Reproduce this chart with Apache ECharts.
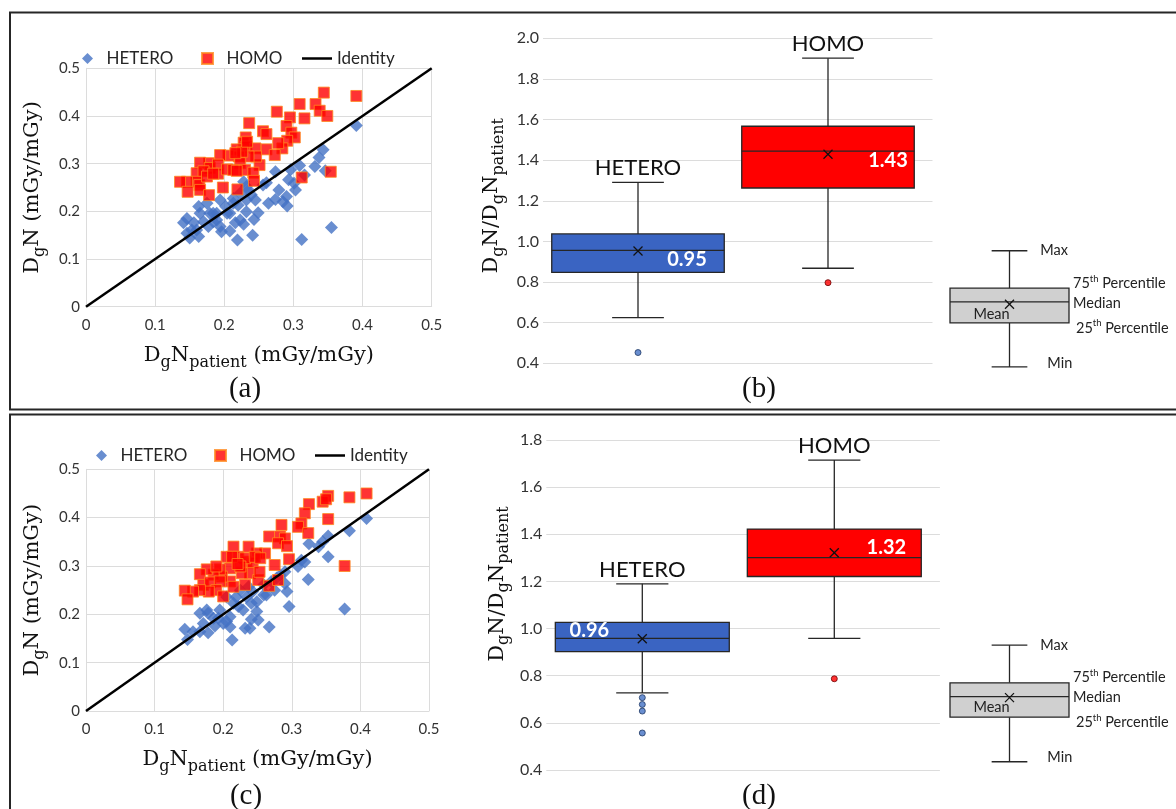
<!DOCTYPE html>
<html><head><meta charset="utf-8">
<script src="https://cdn.jsdelivr.net/npm/echarts@6/dist/echarts.min.js"></script>
<style>html,body{margin:0;padding:0;background:#fff}#c{width:1176px;height:809px}</style>
</head><body><div id="c"></div>
<script>
// ---------- DATA ----------
const seriesNames = ['HETERO', 'HOMO', 'Identity'];
const identityLine = [0, 0.5];
const aHetero = [[0.391,0.380],[0.343,0.329],[0.337,0.313],[0.331,0.294],[0.346,0.285],[0.309,0.296],[0.296,0.287],[0.293,0.266],[0.301,0.259],[0.303,0.245],[0.290,0.231],[0.291,0.211],[0.279,0.245],[0.274,0.283],[0.261,0.260],[0.256,0.255],[0.264,0.217],[0.274,0.225],[0.285,0.220],[0.316,0.276],[0.312,0.141],[0.355,0.166],[0.241,0.150],[0.219,0.140],[0.228,0.262],[0.235,0.245],[0.232,0.224],[0.245,0.224],[0.249,0.197],[0.243,0.183],[0.232,0.199],[0.220,0.213],[0.213,0.227],[0.208,0.196],[0.223,0.182],[0.228,0.173],[0.216,0.176],[0.208,0.159],[0.196,0.157],[0.194,0.224],[0.184,0.196],[0.189,0.182],[0.177,0.168],[0.170,0.178],[0.165,0.196],[0.163,0.210],[0.175,0.217],[0.160,0.161],[0.153,0.161],[0.146,0.154],[0.150,0.144],[0.163,0.147],[0.141,0.176],[0.146,0.185],[0.156,0.176],[0.184,0.178],[0.194,0.168],[0.204,0.196],[0.202,0.210],[0.189,0.196],[0.179,0.196],[0.232,0.252],[0.223,0.238],[0.239,0.235],[0.213,0.217]];
const aHomo = [[0.391,0.442],[0.344,0.449],[0.332,0.425],[0.309,0.425],[0.338,0.411],[0.349,0.400],[0.316,0.395],[0.295,0.397],[0.276,0.409],[0.290,0.379],[0.297,0.365],[0.302,0.355],[0.291,0.348],[0.284,0.332],[0.278,0.343],[0.256,0.368],[0.261,0.362],[0.236,0.385],[0.261,0.330],[0.273,0.318],[0.251,0.297],[0.231,0.355],[0.228,0.344],[0.232,0.336],[0.245,0.332],[0.246,0.315],[0.235,0.315],[0.218,0.330],[0.221,0.315],[0.223,0.301],[0.206,0.317],[0.194,0.318],[0.178,0.301],[0.165,0.302],[0.179,0.291],[0.191,0.298],[0.191,0.279],[0.204,0.288],[0.213,0.287],[0.230,0.287],[0.242,0.281],[0.243,0.264],[0.218,0.285],[0.160,0.280],[0.170,0.284],[0.160,0.262],[0.146,0.262],[0.136,0.262],[0.147,0.241],[0.164,0.255],[0.165,0.245],[0.178,0.234],[0.198,0.250],[0.219,0.246],[0.312,0.271],[0.354,0.283],[0.175,0.273],[0.184,0.279],[0.226,0.325],[0.216,0.322],[0.233,0.346]];
const cHetero = [[0.409,0.398],[0.384,0.373],[0.377,0.211],[0.353,0.319],[0.353,0.362],[0.345,0.350],[0.325,0.346],[0.324,0.272],[0.319,0.308],[0.314,0.312],[0.309,0.299],[0.296,0.216],[0.293,0.247],[0.290,0.264],[0.290,0.288],[0.283,0.281],[0.267,0.174],[0.275,0.250],[0.270,0.268],[0.263,0.240],[0.259,0.240],[0.249,0.206],[0.251,0.188],[0.239,0.171],[0.232,0.171],[0.241,0.190],[0.249,0.226],[0.241,0.223],[0.234,0.236],[0.225,0.250],[0.229,0.209],[0.222,0.216],[0.215,0.223],[0.210,0.195],[0.213,0.147],[0.210,0.174],[0.205,0.185],[0.195,0.209],[0.193,0.192],[0.188,0.176],[0.178,0.202],[0.176,0.209],[0.171,0.181],[0.166,0.202],[0.166,0.164],[0.178,0.162],[0.156,0.164],[0.144,0.169],[0.148,0.148],[0.186,0.192],[0.200,0.181],[0.237,0.257],[0.243,0.247],[0.259,0.261],[0.278,0.275],[0.219,0.236],[0.205,0.236],[0.339,0.340]];
const cHomo = [[0.409,0.450],[0.384,0.442],[0.353,0.445],[0.345,0.433],[0.350,0.438],[0.325,0.428],[0.319,0.409],[0.353,0.397],[0.314,0.388],[0.309,0.381],[0.324,0.368],[0.285,0.385],[0.267,0.361],[0.283,0.361],[0.290,0.357],[0.280,0.347],[0.293,0.341],[0.296,0.314],[0.275,0.302],[0.377,0.300],[0.267,0.259],[0.280,0.271],[0.261,0.326],[0.249,0.326],[0.237,0.340],[0.215,0.340],[0.205,0.319],[0.210,0.295],[0.222,0.319],[0.234,0.309],[0.243,0.307],[0.239,0.285],[0.227,0.285],[0.251,0.271],[0.253,0.288],[0.232,0.261],[0.210,0.268],[0.198,0.278],[0.195,0.293],[0.186,0.282],[0.176,0.293],[0.166,0.283],[0.171,0.261],[0.181,0.266],[0.195,0.268],[0.190,0.250],[0.179,0.247],[0.166,0.250],[0.156,0.247],[0.144,0.249],[0.148,0.231],[0.200,0.237],[0.215,0.257],[0.232,0.316],[0.225,0.299],[0.246,0.319],[0.254,0.316],[0.213,0.319],[0.190,0.299],[0.221,0.304]];

const boxGroups = ['HETERO', 'HOMO'];
// panel (b)
const bMin = [0.625, 0.868];
const bQ1 = [0.848, 1.263];
const bMedian = [0.956, 1.445];
const bQ3 = [1.037, 1.567];
const bMax = [1.291, 1.902];
const bMean = [0.953, 1.429];
const bOutliers = [[0, 0.453], [1, 0.797]];
// panel (d)
const dMin = [0.727, 0.958];
const dQ1 = [0.902, 1.221];
const dMedian = [0.958, 1.301];
const dQ3 = [1.026, 1.422];
const dMax = [1.190, 1.715];
const dMean = [0.957, 1.322];
const dOutliers = [[0, 0.707], [0, 0.678], [0, 0.650], [0, 0.557], [1, 0.787]];
// key (legend) boxes: min, q1, median, q3, max, mean
const keyB = [0.382, 0.599, 0.702, 0.770, 0.954, 0.691];
const keyD = [0.435, 0.624, 0.711, 0.770, 0.930, 0.707];
const keyTexts = ['Min', '25{sup|th} Percentile', 'Median', '75{sup|th} Percentile', 'Max', 'Mean'];

// ---------- STYLE ----------
const BLUE = '#4472c4', BOXBLUE = '#3a64c2', RED = '#ff0000', ORANGE = '#ff8a1f', DARK = '#262626';
const GRID_C = '#dcdcdc';
const SANS = 'Lato', SERIF = 'DejaVu Serif';
const diamondIcon = 'path://M5,0L10,5L5,10L0,5Z';
const squareIcon = 'path://M0,0L10,0L10,10L0,10Z';
const lineIcon = 'path://M0,0L30,0L30,2.5L0,2.5Z';
const subRich = { s: { fontSize: 16, fontFamily: SERIF, color: '#111', lineHeight: 16, padding: [14, 0, 0, 0] } };
const nameStyle = { fontFamily: SERIF, fontSize: 21, color: '#111', lineHeight: 26, rich: subRich };

function boxRows(mn, q1, md, q3, mx, mean) {
  return boxGroups.map((g, i) => [i, mn[i], q1[i], md[i], q3[i], mx[i], mean[i]]);
}

function boxRender(cfg) {
  return function (params, api) {
    const i = params.dataIndex;
    const x = api.value(0);
    const pMin = api.coord([x, api.value(1)]);
    const pQ1 = api.coord([x, api.value(2)]);
    const pMed = api.coord([x, api.value(3)]);
    const pQ3 = api.coord([x, api.value(4)]);
    const pMax = api.coord([x, api.value(5)]);
    const mean = api.value(6);
    const pMean = api.coord([x, mean]);
    const w = api.size([cfg.boxWidth, 0])[0];
    const cx = pMed[0], hw = w / 2, cap = w * 0.15;
    const ln = { stroke: DARK, lineWidth: 1.3 };
    const ch = [
      { type: 'line', shape: { x1: cx, y1: pQ3[1], x2: cx, y2: pMax[1] }, style: ln },
      { type: 'line', shape: { x1: cx, y1: pQ1[1], x2: cx, y2: pMin[1] }, style: ln },
      { type: 'line', shape: { x1: cx - cap, y1: pMax[1], x2: cx + cap, y2: pMax[1] }, style: ln },
      { type: 'line', shape: { x1: cx - cap, y1: pMin[1], x2: cx + cap, y2: pMin[1] }, style: ln },
      { type: 'rect', shape: { x: cx - hw, y: pQ3[1], width: w, height: pQ1[1] - pQ3[1] }, style: { fill: cfg.fills[i], stroke: DARK, lineWidth: 1.3 } },
      { type: 'line', shape: { x1: cx - hw, y1: pMed[1], x2: cx + hw, y2: pMed[1] }, style: ln },
      { type: 'line', shape: { x1: cx - 4.5, y1: pMean[1] - 4.5, x2: cx + 4.5, y2: pMean[1] + 4.5 }, style: { stroke: '#111', lineWidth: 1.3 } },
      { type: 'line', shape: { x1: cx - 4.5, y1: pMean[1] + 4.5, x2: cx + 4.5, y2: pMean[1] - 4.5 }, style: { stroke: '#111', lineWidth: 1.3 } }
    ];
    if (cfg.key) {
      const ts = { fontFamily: SANS, fontSize: 14.5, fill: '#222', verticalAlign: 'middle', align: 'left',
        rich: { sup: { fontSize: 9.5, fontFamily: SANS, fill: '#222', lineHeight: 9, padding: [0, 0, 9, 0] } } };
      const rx = cx + hw;
      const pos = [
        [cx + cap + 20, pMin[1] - 4], [rx + 7, pQ1[1] + 5], [rx + 4, pMed[1] + 1],
        [rx + 4, pQ3[1] - 5], [cx + cap + 13, pMax[1]]
      ];
      pos.forEach((p, k) => ch.push({ type: 'text', x: p[0], y: p[1], style: Object.assign({ text: keyTexts[k] }, ts) }));
      ch.push({ type: 'text', x: cx - 18, y: pMean[1] + 10, style: Object.assign({}, ts, { text: keyTexts[5], align: 'center' }) });
    } else {
      const lab = cfg.labels[i];
      ch.push({ type: 'text', x: cx + lab[0], y: pMean[1] + lab[1],
        style: { text: mean.toFixed(2), fontFamily: SANS, fontWeight: 'bold', fontSize: 20, fill: '#fff', align: 'center', verticalAlign: 'middle' } });
      ch.push({ type: 'text', x: cx, y: pMax[1] - 14,
        style: { text: boxGroups[i], fontFamily: SANS, fontSize: 22, fill: '#111', align: 'center', verticalAlign: 'middle' } });
    }
    return { type: 'group', children: ch };
  };
}

function scatterX(gi, nameGap) {
  return { type: 'value', gridIndex: gi, min: 0, max: 0.5, interval: 0.1,
    name: 'D{s|g}N{s|patient} (mGy/mGy)', nameLocation: 'middle', nameGap: nameGap, nameTextStyle: nameStyle,
    axisLine: { show: true, lineStyle: { color: GRID_C, width: 1 } }, axisTick: { show: false },
    axisLabel: { fontFamily: SANS, fontSize: 15, color: '#333', margin: 11 },
    splitLine: { show: true, lineStyle: { color: GRID_C, width: 1 } } };
}
function scatterY(gi) {
  return { type: 'value', gridIndex: gi, min: 0, max: 0.5, interval: 0.1,
    name: 'D{s|g}N (mGy/mGy)', nameLocation: 'middle', nameGap: 40, nameRotate: 90, nameTextStyle: nameStyle,
    axisLine: { show: true, lineStyle: { color: GRID_C, width: 1 } }, axisTick: { show: false },
    axisLabel: { fontFamily: SANS, fontSize: 15, color: '#333', margin: 6 },
    splitLine: { show: true, lineStyle: { color: GRID_C, width: 1 } } };
}
function boxY(gi, max, pad, gap) {
  return { type: 'value', gridIndex: gi, min: 0.4, max: max, interval: 0.2,
    name: 'D{s|g}N/D{s|g}N{s|patient}', nameLocation: 'middle', nameGap: gap, nameRotate: 90,
    nameTextStyle: Object.assign({}, nameStyle, { padding: pad }),
    axisLine: { show: false }, axisTick: { show: false },
    axisLabel: { fontFamily: SANS, fontSize: 16, color: '#333', margin: 4, formatter: v => v.toFixed(1) },
    splitLine: { show: true, lineStyle: { color: GRID_C, width: 1 } } };
}
function hiddenX(gi, min, max) { return { type: 'value', gridIndex: gi, min: min, max: max, show: false }; }
function hiddenY(gi, max) { return { type: 'value', gridIndex: gi, min: 0.4, max: max, show: false }; }

function scatterSeries(xi, het, hom) {
  return [
    { name: seriesNames[0], type: 'scatter', xAxisIndex: xi, yAxisIndex: xi, data: het, symbol: 'diamond', symbolSize: 13,
      itemStyle: { color: BLUE }, z: 2 },
    { name: seriesNames[1], type: 'scatter', xAxisIndex: xi, yAxisIndex: xi, data: hom, symbol: 'rect', symbolSize: 11,
      itemStyle: { color: RED, borderColor: ORANGE, borderWidth: 1 }, z: 3 },
    { name: seriesNames[2], type: 'line', xAxisIndex: xi, yAxisIndex: xi, data: identityLine.map(v => [v, v]), symbol: 'none',
      lineStyle: { color: '#000', width: 2.5 }, itemStyle: { color: '#000' }, z: 4 }
  ];
}
function outlierSeries(xi, outs) {
  return { name: 'outliers' + xi, type: 'scatter', xAxisIndex: xi, yAxisIndex: xi, symbol: 'circle', symbolSize: 6,
    data: outs.map(o => ({ value: o, itemStyle: { color: o[0] === 0 ? BLUE : RED, borderColor: o[0] === 0 ? '#1f3864' : '#6b0000', borderWidth: 1 } })), z: 5 };
}

function legendItem(name, icon, left, top, w) {
  return { data: [{ name: name, icon: icon }], left: left, top: top, padding: 0,
    itemWidth: w, itemHeight: 11, selectedMode: false,
    textStyle: { fontFamily: SANS, fontSize: 17, color: '#262626' } };
}

const option = {
  animation: false,
  backgroundColor: '#fff',
  legend: [
    legendItem('HETERO', diamondIcon, 82, 50, 28),
    legendItem('HOMO', squareIcon, 201, 50, 28),
    legendItem('Identity', lineIcon, 302, 50, 30),
    legendItem('HETERO', diamondIcon, 96, 447, 28),
    legendItem('HOMO', squareIcon, 214, 447, 28),
    legendItem('Identity', lineIcon, 315, 447, 30)
  ],
  grid: [
    { left: 86, top: 68.3, width: 345.7, height: 238.4 },
    { left: 543, top: 38.3, width: 389.5, height: 325 },
    { left: 950, top: 38.3, width: 119, height: 325 },
    { left: 86, top: 469.3, width: 343, height: 241.7 },
    { left: 546.3, top: 440, width: 393.6, height: 330 },
    { left: 950, top: 440, width: 119, height: 330 }
  ],
  xAxis: [scatterX(0, 36), hiddenX(1, -0.5, 1.55), hiddenX(2, -0.5, 0.5), scatterX(3, 36), hiddenX(4, -0.5, 1.55), hiddenX(5, -0.5, 0.5)],
  yAxis: [scatterY(0), boxY(1, 2.0, [0, 0, 0, 10], 38), hiddenY(2, 2.0), scatterY(3), boxY(4, 1.8, [0, 0, 0, 42], 36), hiddenY(5, 1.8)],
  series: [
    ...scatterSeries(0, aHetero, aHomo),
    ...scatterSeries(3, cHetero, cHomo),
    { name: 'box-b', type: 'custom', xAxisIndex: 1, yAxisIndex: 1, data: boxRows(bMin, bQ1, bMedian, bQ3, bMax, bMean),
      renderItem: boxRender({ boxWidth: 0.908, fills: [BOXBLUE, RED], labels: [[49, 9], [60, 6]] }), z: 2 },
    outlierSeries(1, bOutliers),
    { name: 'key-b', type: 'custom', xAxisIndex: 2, yAxisIndex: 2, data: [[0, ...keyB]],
      renderItem: boxRender({ boxWidth: 1, fills: ['#d0d0d0'], key: true }) },
    { name: 'box-d', type: 'custom', xAxisIndex: 4, yAxisIndex: 4, data: boxRows(dMin, dQ1, dMedian, dQ3, dMax, dMean),
      renderItem: boxRender({ boxWidth: 0.906, fills: [BOXBLUE, RED], labels: [[-53, -8], [52, -5]] }), z: 2 },
    outlierSeries(4, dOutliers),
    { name: 'key-d', type: 'custom', xAxisIndex: 5, yAxisIndex: 5, data: [[0, ...keyD]],
      renderItem: boxRender({ boxWidth: 1, fills: ['#d0d0d0'], key: true }) }
  ],
  graphic: [
    { type: 'rect', silent: true, shape: { x: 10, y: 12.5, width: 1180, height: 397 }, style: { fill: 'none', stroke: DARK, lineWidth: 2 } },
    { type: 'rect', silent: true, shape: { x: 10, y: 414.5, width: 1180, height: 420 }, style: { fill: 'none', stroke: DARK, lineWidth: 2 } },
    { type: 'text', x: 245, y: 389, style: { text: '(a)', font: '29px "Liberation Serif"', fill: '#111', align: 'center', verticalAlign: 'middle' } },
    { type: 'text', x: 759, y: 389, style: { text: '(b)', font: '29px "Liberation Serif"', fill: '#111', align: 'center', verticalAlign: 'middle' } },
    { type: 'text', x: 246, y: 796, style: { text: '(c)', font: '29px "Liberation Serif"', fill: '#111', align: 'center', verticalAlign: 'middle' } },
    { type: 'text', x: 759, y: 796, style: { text: '(d)', font: '29px "Liberation Serif"', fill: '#111', align: 'center', verticalAlign: 'middle' } }
  ]
};

const chart = echarts.init(document.getElementById('c'), null, { renderer: 'canvas' });
chart.setOption(option);
</script></body></html>
